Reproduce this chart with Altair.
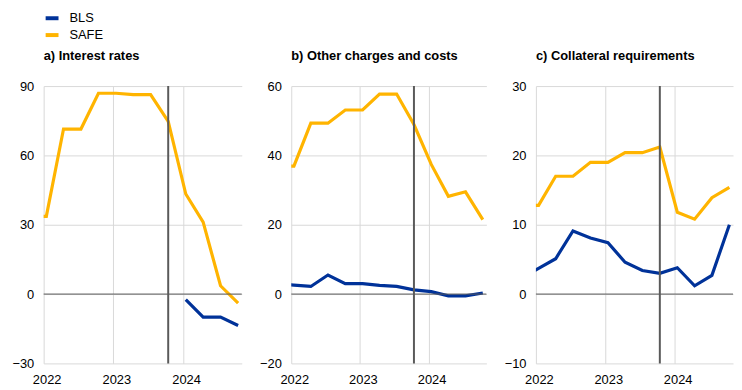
import altair as alt
import pandas as pd

# Quarterly observation dates (first one lies just before the visible range)
dates = ["2021-10-15", "2022-01-15", "2022-04-15", "2022-07-15", "2022-10-15",
         "2023-01-15", "2023-04-15", "2023-07-15", "2023-10-15",
         "2024-01-15", "2024-04-15", "2024-07-15", "2024-10-15"]
series_names = ["BLS", "SAFE"]
series_colors = ["#003299", "#FFB400"]
cutoff_date = ["2023-10-15"]
year_ticks = [2022, 2023, 2024]

# a) Interest rates
safe_a = [33.6, 33.6, 71.4, 71.4, 86.9, 86.9, 86.3, 86.3, 74.7, 43.3, 31.1, 3.6, -3.9]
bls_a = [None, None, None, None, None, None, None, None, None, -2.4, -10.0, -10.0, -13.6]
# b) Other charges and costs
safe_b = [36.9, 36.9, 49.3, 49.3, 53.1, 53.1, 57.7, 57.7, 48.9, 37.4, 28.2, 29.5, 21.5]
bls_b = [2.8, 2.6, 2.2, 5.5, 3.0, 3.0, 2.5, 2.2, 1.2, 0.7, -0.5, -0.5, 0.3]
# c) Collateral requirements
safe_c = [12.8, 12.8, 17.0, 17.0, 19.0, 19.0, 20.4, 20.4, 21.2, 11.8, 10.8, 13.9, 15.4]
bls_c = [2.3, 3.7, 5.1, 9.1, 8.1, 7.4, 4.6, 3.4, 3.0, 3.8, 1.2, 2.7, 10.0]

titles = ["a) Interest rates", "b) Other charges and costs", "c) Collateral requirements"]
y_domains = [[-30, 90], [-20, 60], [-10, 30]]
y_ticks = [[-30, 0, 30, 60, 90], [-20, 0, 20, 40, 60], [-10, 0, 10, 20, 30]]
FONT = "Liberation Sans"

legend = alt.Legend(orient="none", legendX=0, legendY=-77, title=None,
                    symbolType="stroke", symbolStrokeWidth=4, symbolSize=169,
                    labelFontSize=13, labelFont=FONT, labelColor="black",
                    labelOffset=9, rowPadding=0)


def panel(title, safe, bls, ydom, yvals, width):
    df = pd.DataFrame({
        "date": dates * 2,
        "series": ["BLS"] * len(dates) + ["SAFE"] * len(dates),
        "value": bls + safe,
    }).dropna()
    xenc = alt.X(
        "date:T",
        title=None,
        scale=alt.Scale(type="utc", nice=False,
                        domain=[alt.DateTime(year=2022, month=1, date=1, utc=True),
                                alt.DateTime(year=2024, month=11, date=3, utc=True)]),
        axis=alt.Axis(values=[alt.DateTime(year=y, month=1, date=1, utc=True) for y in year_ticks],
                      labelExpr="utcFormat(datum.value, '%Y')",
                      labelPadding=10, labelOffset=3, labelFlush=False, grid=True),
    )
    yenc = alt.Y("value:Q", title=None,
                 scale=alt.Scale(domain=ydom, nice=False, zero=False),
                 axis=alt.Axis(values=yvals, labelPadding=10, labelFlush=False, grid=True))
    color = alt.Color("series:N", scale=alt.Scale(domain=series_names, range=series_colors),
                      legend=legend)

    lines = alt.Chart(df).mark_line(strokeWidth=3.2, clip=True).encode(
        x=xenc, y=yenc, color=color)
    zero = alt.Chart(pd.DataFrame({"v": [0]})).mark_rule(color="#595959", strokeWidth=1).encode(
        y=alt.Y("v:Q"))
    cut = alt.Chart(pd.DataFrame({"date": cutoff_date})).mark_rule(
        color="#5a5a5a", strokeWidth=2).encode(x=alt.X("date:T"))
    return alt.layer(lines, zero, cut).properties(
        width=width, height=280,
        title=alt.TitleParams(title, anchor="start", frame="group", fontSize=13,
                              fontWeight="bold", font=FONT, color="black", offset=17),
    )


a = panel(titles[0], safe_a, bls_a, y_domains[0], y_ticks[0], 200)
b = panel(titles[1], safe_b, bls_b, y_domains[1], y_ticks[1], 197)
c = panel(titles[2], safe_c, bls_c, y_domains[2], y_ticks[2], 199)

chart = alt.hconcat(a, b, c, spacing=50, bounds="flush").properties(
    padding={"left": 3, "top": 0, "right": 0, "bottom": 0}
).configure_view(stroke=None).configure_axis(
    gridColor="#d9d9d9", gridWidth=1, domain=False, ticks=False,
    labelFont=FONT, labelFontSize=13, labelColor="black",
)

chart.save("out.html", embed_options={"renderer": "svg", "actions": False})
